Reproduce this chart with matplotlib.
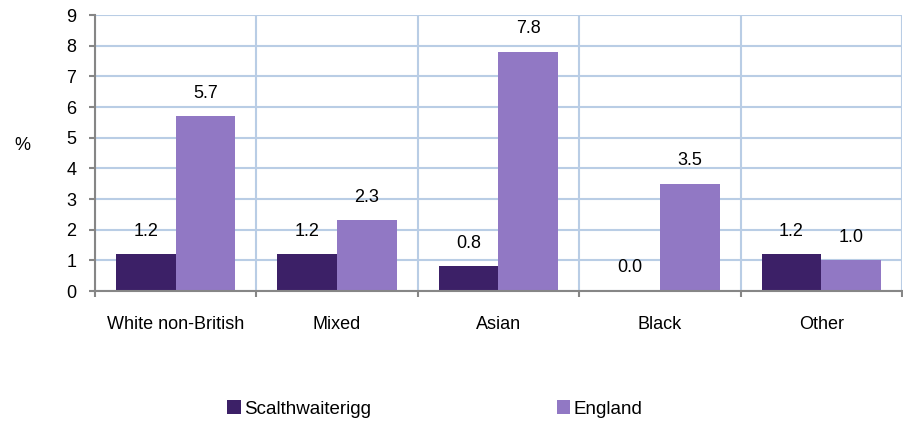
import matplotlib.pyplot as plt
import numpy as np

plt.rcParams['font.family'] = ['Liberation Sans', 'DejaVu Sans']

categories = ['White non-British', 'Mixed', 'Asian', 'Black', 'Other']
scalthwaiterigg = [1.2, 1.2, 0.8, 0.0, 1.2]
england = [5.7, 2.3, 7.8, 3.5, 1.0]

dark = '#3C2067'
light = '#9178C4'
grid_col = '#B9CDE5'
spine_col = '#868686'

fig = plt.figure(figsize=(9.04, 4.26), dpi=100)
ax = fig.add_axes([95 / 904, (426 - 291) / 426, (902 - 95) / 904, (291 - 15) / 426])

x = np.arange(len(categories))
w = 0.37
b1 = ax.bar(x - w / 2, scalthwaiterigg, w, color=dark, label='Scalthwaiterigg', zorder=3)
b2 = ax.bar(x + w / 2, england, w, color=light, label='England', zorder=3)

# value labels sit a fixed distance above each bar
for bars, vals in ((b1, scalthwaiterigg), (b2, england)):
    for r, v in zip(bars, vals):
        ax.annotate(f'{v:.1f}', (r.get_x() + r.get_width() / 2, v),
                    xytext=(0, 23), textcoords='offset pixels',
                    ha='center', va='center', fontsize=13)

ax.set_xlim(-0.5, len(categories) - 0.5)
ax.set_ylim(0, 9)
ax.set_yticks(range(10))
ax.set_xticks(x)
ax.set_xticklabels(categories, fontsize=13)
ax.set_xticks(np.arange(-0.5, len(categories)), minor=True)
ax.tick_params(axis='x', which='major', length=0, pad=18)
ax.tick_params(axis='x', which='minor', length=4.5, color=spine_col, width=1.5, direction='out')
ax.tick_params(axis='y', length=4.5, color=spine_col, width=1.5, labelsize=13, pad=9)

ax.grid(True, axis='y', color=grid_col, lw=1.5, zorder=0)
ax.grid(True, axis='x', which='minor', color=grid_col, lw=1.5, zorder=0)

for s in ('top', 'right'):
    ax.spines[s].set_visible(False)
for s in ('left', 'bottom'):
    ax.spines[s].set_color(spine_col)
    ax.spines[s].set_linewidth(1.5)
    ax.spines[s].set_zorder(4)

fig.text(22 / 904, 1 - 145 / 426, '%', fontsize=13, ha='center', va='center')

fig.legend(handles=[b1, b2], loc='center left', bbox_to_anchor=(220 / 904, 1 - 409 / 426),
           ncol=2, frameon=False, fontsize=13.5, handlelength=0.7, handleheight=0.7,
           handletextpad=0.2, columnspacing=9.9, borderaxespad=0)

fig.savefig('out.png', dpi=100)
